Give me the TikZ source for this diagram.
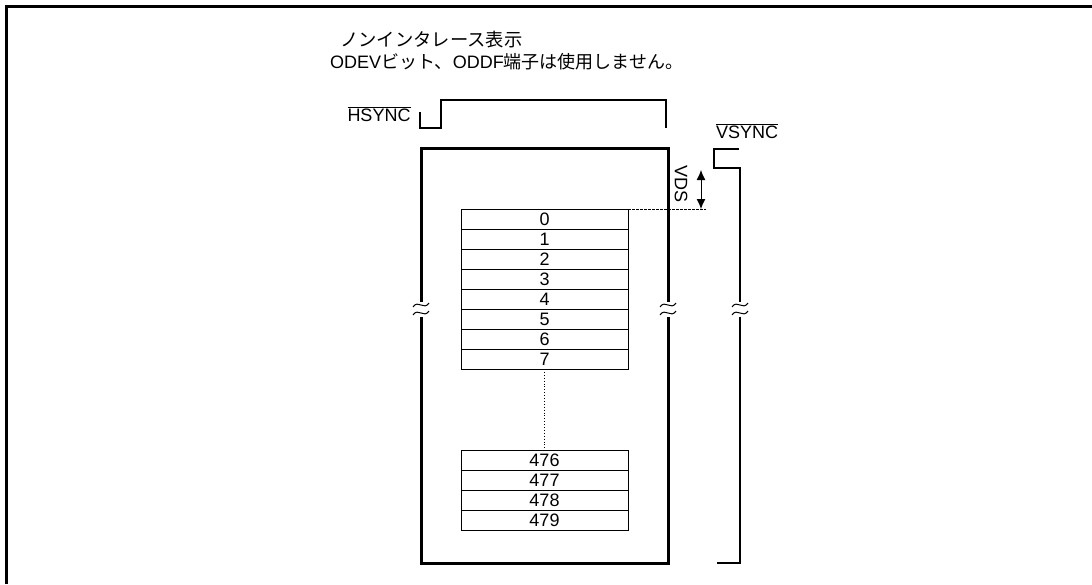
\documentclass[tikz,border=0pt]{standalone}
\usepackage{fontspec}
\setmainfont{Liberation Sans}
\newfontfamily\cjk{Noto Sans CJK JP}
\usetikzlibrary{arrows.meta,positioning}

\tikzset{
  brk/.pic={
    \draw[line width=1pt] (-8,-2) .. controls (-3,-10) and (3,2) .. (8,-6);
    \draw[line width=1pt] (-8,6) .. controls (-3,-2) and (3,10) .. (8,2);
  }
}

\begin{document}
\begin{tikzpicture}[
    x=1pt, y=-1pt,
    font=\fontsize{18}{20}\selectfont,
    lbl/.style={inner sep=0pt},
    wave/.style={line width=2.5pt},
    frame/.style={line width=3pt},
    row/.style={draw, line width=0.9pt, minimum width=167pt, minimum height=20pt, inner sep=0pt, outer sep=0pt},
    gap/.style={dotted, line width=0.9pt},
    vdsarrow/.style={{Latex[length=10pt,width=9pt]}-{Latex[length=10pt,width=9pt]}, line width=1pt}
  ]
  \useasboundingbox (0,0) rectangle (1092,584);

  % outer frame
  \draw[line width=3pt] (6,584) -- (6,6) -- (1092,6);

  % title
  \node[lbl, anchor=west, font=\cjk\fontsize{18.3}{20}\selectfont] (title1) at (340,40) {ノンインタレース表示};
  \node[lbl, anchor=west] (title2) at (330,62) {ODEV{\cjk ビット、}ODDF{\cjk 端子は使用しません。}};

  % sync signals
  \node[lbl] (hsync) at (379,114) {$\overline{\mbox{HSYNC}}$};
  \draw[wave] (420,112) -- (420,128) -- (441,128) -- (441,100) -- (666,100) -- (666,128);
  \node[lbl] (vsync) at (747,131) {$\overline{\mbox{VSYNC}}$};
  \draw[wave] (739,149) -- (714,149) -- (714,168) -- (740,168) -- (740,301.5);
  \draw[wave] (740,316.5) -- (740,563) -- (717,563);

  % display area
  \draw[frame] (421,301.5) -- (421,148) -- (668,148) -- (668,301.5);
  \draw[frame] (421,316.5) -- (421,563) -- (668,563) -- (668,316.5);
  \pic at (421,309) {brk};
  \pic at (668,309) {brk};
  \pic at (740,309) {brk};

  % lines
  \foreach \n [count=\i from 0] in {0,...,7}
    \node[row] (r\n) at (544.5,219+20*\i) {\n};
  \foreach \n [count=\i from 0] in {476,...,479}
    \node[row] (r\n) at (544.5,460+20*\i) {\n};
  \draw[gap] (r7.south) -- (r476.north);

  % VDS
  \coordinate (vdstop) at (701,170);
  \coordinate (vdsbot) at (701,209);
  \coordinate (vdsend) at (706,209);
  \draw[dash pattern=on 2.5pt off 1.5pt, line width=0.9pt] (r0.north east) -- (vdsend);
  \draw[vdsarrow] (vdstop) -- (vdsbot);
  \node[lbl, rotate=-90] (vds) at (681,184) {VDS};

\end{tikzpicture}
\end{document}
